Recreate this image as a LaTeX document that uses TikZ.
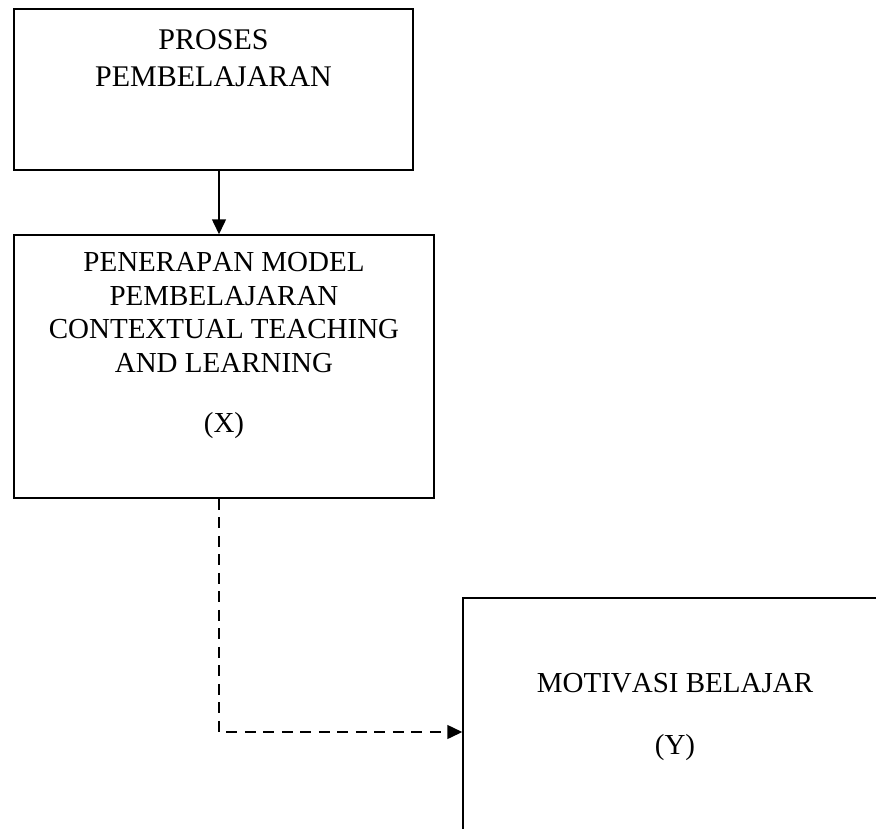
\documentclass[tikz,border=0pt]{standalone}
\usepackage{fontspec}
\setmainfont{Liberation Serif}[Kerning=Off]
\usetikzlibrary{arrows.meta}
\begin{document}
\begin{tikzpicture}[x=1pt,y=-1pt,
  boxstyle/.style={draw=black,line width=1.5pt,inner sep=0pt,rectangle},
  txtA/.style={anchor=base,inner sep=0pt,font=\fontsize{30}{36}\selectfont},
  txtB/.style={anchor=base,inner sep=0pt,font=\fontsize{29}{34}\selectfont},
  solidarrow/.style={line width=1.5pt,-{Triangle[length=15pt,width=14pt]}},
  dasharrow/.style={line width=1.5pt,dash pattern=on 11pt off 7.5pt,-{Triangle[length=15pt,width=14pt]}}]
\useasboundingbox (0,0) rectangle (876,828);
\clip (0,0) rectangle (876,828);
\node[boxstyle,minimum width=399pt,minimum height=161pt] (b1) at (213.5,89.5) {};
\node[boxstyle,minimum width=420pt,minimum height=263pt] (b2) at (224,366.5) {};
\node[boxstyle,minimum width=424pt,minimum height=268pt] (b3) at (675,732) {};
\coordinate (ax) at (219,0);
% texts
\node[txtA] (t1a) at (213.5,49.3) {PROSES};
\node[txtA] (t1b) at (213.5,86) {PEMBELAJARAN};
\node[txtB] (t2a) at (224,271.7) {PENERAPAN MODEL};
\node[txtB] (t2b) at (224,305.2) {PEMBELAJARAN};
\node[txtB] (t2c) at (224,338.7) {CONTEXTUAL TEACHING};
\node[txtB] (t2d) at (224,372.5) {AND LEARNING};
\node[txtB] (t2e) at (224,432) {(X)};
\node[txtB] (t3a) at (675,692) {MOTIVASI BELAJAR};
\node[txtB] (t3b) at (675,754) {(Y)};
% connectors
\draw[solidarrow] (b1.south -| ax) -- (b2.north -| ax);
\draw[dasharrow] (b2.south -| ax) |- (b3.west);
\end{tikzpicture}
\end{document}
